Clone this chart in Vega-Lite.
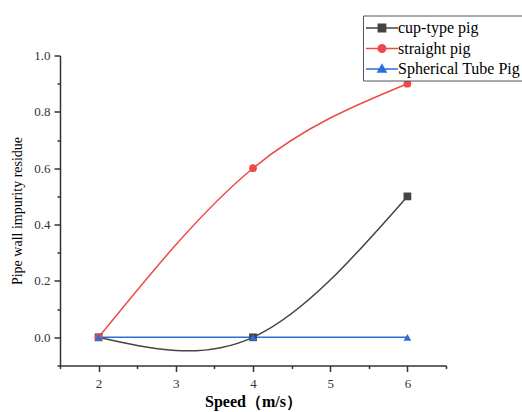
{
  "$schema": "https://vega.github.io/schema/vega-lite/v6.json",
  "width": 386,
  "height": 310,
  "autosize": "none",
  "padding": {"left": 60, "top": 55.5, "right": 76, "bottom": 46.5},
  "background": "white",
  "config": {
    "view": {"stroke": null},
    "font": "Liberation Serif"
  },
  "data": {
    "values": [
      {"series": "cup-type pig", "speed": 2, "residue": 0},
      {"series": "cup-type pig", "speed": 4, "residue": 0},
      {"series": "cup-type pig", "speed": 6, "residue": 0.5},
      {"series": "straight pig", "speed": 2, "residue": 0},
      {"series": "straight pig", "speed": 4, "residue": 0.6},
      {"series": "straight pig", "speed": 6, "residue": 0.9},
      {"series": "Spherical Tube Pig", "speed": 2, "residue": 0},
      {"series": "Spherical Tube Pig", "speed": 4, "residue": 0},
      {"series": "Spherical Tube Pig", "speed": 6, "residue": 0}
    ]
  },
  "encoding": {
    "x": {
      "field": "speed", "type": "quantitative",
      "scale": {"domain": [1.5, 6.5], "nice": false, "zero": false},
      "axis": {
        "title": "Speed（m/s）",
        "titleFont": "Liberation Serif",
        "titleFontSize": 16,
        "titleFontWeight": "bold",
        "titleColor": "#000",
        "titlePadding": 3,
        "values": [1.5, 2, 2.5, 3, 3.5, 4, 4.5, 5, 5.5, 6, 6.5],
        "labelExpr": "datum.value % 1 == 0 ? format(datum.value, 'd') : ''",
        "labelFont": "Liberation Serif",
        "labelFontSize": 13,
        "labelColor": "#333",
        "labelPadding": 6,
        "grid": false,
        "domainColor": "#333",
        "domainWidth": 1.5,
        "tickColor": "#333",
        "tickWidth": 1.5,
        "tickSize": {"condition": {"test": "datum.value % 1 == 0", "value": 6}, "value": 3},
        "labelFlush": false
      }
    },
    "y": {
      "field": "residue", "type": "quantitative",
      "scale": {"domain": [-0.1, 1.0], "nice": false, "zero": false},
      "axis": {
        "title": "Pipe wall impurity residue",
        "titleFont": "Liberation Serif",
        "titleFontSize": 14,
        "titleFontWeight": "normal",
        "titleColor": "#000",
        "titlePadding": 9,
        "values": [-0.1, 0, 0.1, 0.2, 0.3, 0.4, 0.5, 0.6, 0.7, 0.8, 0.9, 1.0],
        "labelExpr": "round(datum.value * 10) % 2 == 0 ? format(datum.value, '.1f') : ''",
        "labelFont": "Liberation Serif",
        "labelFontSize": 13,
        "labelColor": "#333",
        "labelPadding": 4,
        "grid": false,
        "domainColor": "#333",
        "domainWidth": 1.5,
        "tickColor": "#333",
        "tickWidth": 1.5,
        "tickSize": {"condition": {"test": "round(datum.value * 10) % 2 == 0", "value": 6}, "value": 3},
        "labelFlush": false
      }
    },
    "color": {
      "field": "series", "type": "nominal",
      "scale": {
        "domain": ["cup-type pig", "straight pig", "Spherical Tube Pig"],
        "range": ["#444444", "#f04848", "#2a6fdc"]
      },
      "legend": {
        "orient": "none",
        "legendX": 303,
        "legendY": -40,
        "title": null,
        "labelFont": "Liberation Serif",
        "labelFontSize": 16,
        "labelColor": "#000",
        "labelOffset": 13,
        "strokeColor": "#555",
        "fillColor": "white",
        "padding": 3,
        "rowPadding": 2.5,
        "symbolSize": 289,
        "symbolStrokeWidth": 1.5,
        "symbolType": "M-1,0H1",
        "encode": {
          "symbols": {
            "update": {
              "shape": {"signal": "datum.value === 'cup-type pig' ? 'M-1.12,0H2.65M0.33,-0.43H1.19V0.43H0.33Z' : datum.value === 'straight pig' ? 'M-1.12,0H2.65M0.32,0A0.44,0.44,0,1,0,1.2,0A0.44,0.44,0,1,0,0.32,0Z' : 'M-1.12,0H2.65M0.76,-0.5L1.24,0.36H0.28Z'"},
              "fill": {"signal": "scale('color', datum.value)"},
              "stroke": {"signal": "scale('color', datum.value)"}
            }
          }
        }
      }
    }
  },
  "layer": [
    {
      "mark": {"type": "line", "interpolate": "natural", "strokeWidth": 1.5}
    },
    {
      "mark": {
        "type": "point", "filled": true, "opacity": 1, "size": 60,
        "shape": {"expr": "datum.series === 'cup-type pig' ? 'square' : datum.series === 'straight pig' ? 'circle' : 'triangle-up'"}
      }
    }
  ]
}
